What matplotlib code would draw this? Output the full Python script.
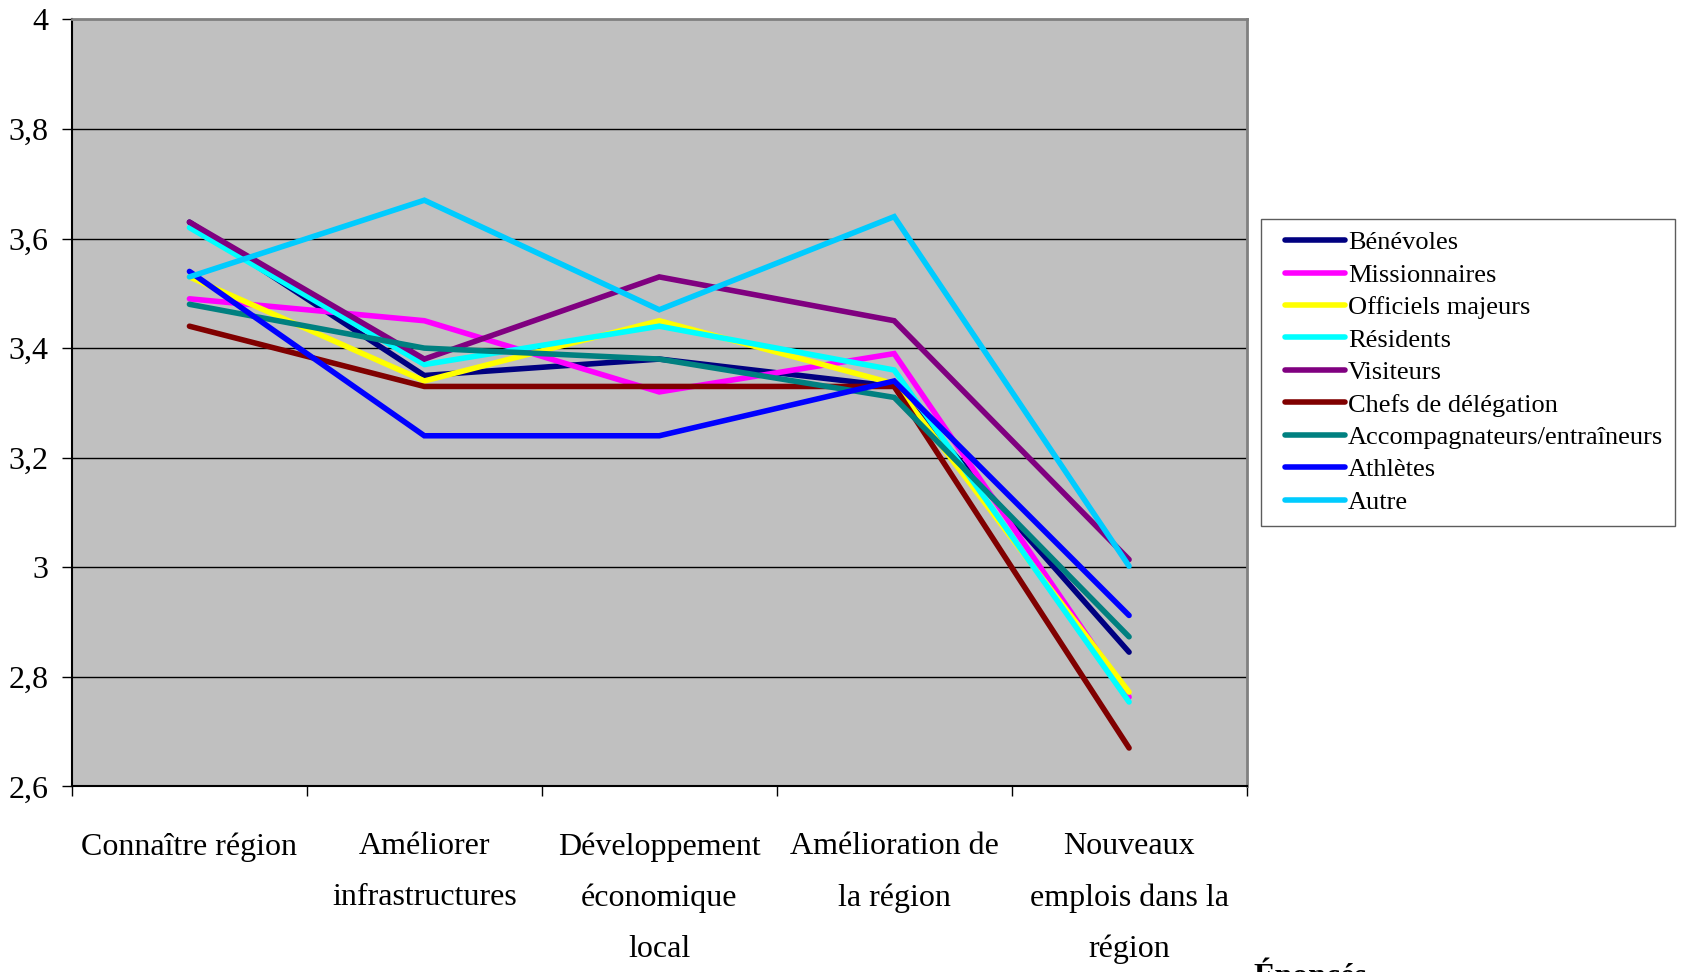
import matplotlib
matplotlib.use("Agg")
import matplotlib.pyplot as plt
from matplotlib.legend_handler import HandlerLine2D
import numpy as np

# categories (statements) on the x axis
categories = [
    "Connaître région",
    "Améliorer\ninfrastructures",
    "Développement\néconomique\nlocal",
    "Amélioration de\nla région",
    "Nouveaux\nemplois dans la\nrégion",
]

# mean scores per group
benevoles = [3.63, 3.35, 3.38, 3.33, 2.845]
missionnaires = [3.49, 3.45, 3.32, 3.39, 2.763]
officiels = [3.53, 3.34, 3.45, 3.335, 2.772]
residents = [3.62, 3.37, 3.44, 3.36, 2.754]
visiteurs = [3.63, 3.38, 3.53, 3.45, 3.014]
chefs = [3.44, 3.33, 3.33, 3.33, 2.67]
accompagnateurs = [3.48, 3.40, 3.38, 3.31, 2.873]
athletes = [3.54, 3.24, 3.24, 3.34, 2.912]
autre = [3.53, 3.67, 3.47, 3.64, 3.002]

series_names = ["Bénévoles", "Missionnaires", "Officiels majeurs", "Résidents",
                "Visiteurs", "Chefs de délégation",
                "Accompagnateurs/entraîneurs", "Athlètes", "Autre"]
series_values = [benevoles, missionnaires, officiels, residents, visiteurs,
                 chefs, accompagnateurs, athletes, autre]
series_colors = ["#000080", "#FF00FF", "#FFFF00", "#00FFFF", "#800080",
                 "#800000", "#008080", "#0000FF", "#00CCFF"]

yticks = [2.6, 2.8, 3.0, 3.2, 3.4, 3.6, 3.8, 4.0]


class IndentedLine(HandlerLine2D):
    # legend line that starts a bit in from the frame edge
    def get_xdata(self, legend, xdescent, ydescent, width, height, fontsize):
        off = 0.45 * fontsize
        xdata = np.array([-xdescent + off, -xdescent + width])
        return xdata, xdata


plt.rcParams['font.family'] = ['Liberation Serif', 'DejaVu Serif']

fig = plt.figure(figsize=(16.82, 9.72), dpi=100)
ax = fig.add_axes([0.0428, 0.191, 0.6983, 0.789])
ax.set_facecolor("#C0C0C0")

x = np.arange(len(categories))
for name, vals, col in zip(series_names, series_values, series_colors):
    ax.plot(x, vals, color=col, lw=4, label=name, solid_capstyle='round',
            solid_joinstyle='miter')

ax.set_xlim(-0.5, len(categories) - 0.5)
ax.set_ylim(2.6, 4.0)

# horizontal gridlines
for yv in yticks[1:-1]:
    ax.axhline(yv, color="black", lw=1, zorder=0.5)

ax.set_yticks(yticks)
ax.set_yticklabels([f"{v:g}".replace(".", ",") for v in yticks])
ax.tick_params(axis='y', direction='out', length=7, width=1, pad=10,
               labelsize=23)

ax.set_xticks(x)
ax.set_xticklabels(categories, fontsize=23, linespacing=1.98)
ax.tick_params(axis='x', which='major', length=0, pad=33)
ax.set_xticks(np.arange(-0.5, len(categories)), minor=True)
ax.tick_params(axis='x', which='minor', direction='out', length=7, width=1)

for side in ['top', 'right']:
    ax.spines[side].set_color("#808080")
    ax.spines[side].set_linewidth(2)
for side in ['left', 'bottom']:
    ax.spines[side].set_color("black")
    ax.spines[side].set_linewidth(1.5)

leg = fig.legend(loc='upper left', bbox_to_anchor=(1261 / 1682, 1 - 219 / 972),
                 fontsize=19, frameon=True, fancybox=False, handlelength=2.75,
                 handletextpad=0.1, labelspacing=0.34, borderpad=0.45,
                 borderaxespad=0, handler_map={plt.Line2D: IndentedLine()})
leg.get_frame().set_edgecolor("#333333")
leg.get_frame().set_linewidth(1)

fig.text(1253 / 1682, -0.0135, "Énoncés", fontsize=23, fontweight='bold',
         va='baseline', ha='left')

fig.savefig("out.png", dpi=100)
